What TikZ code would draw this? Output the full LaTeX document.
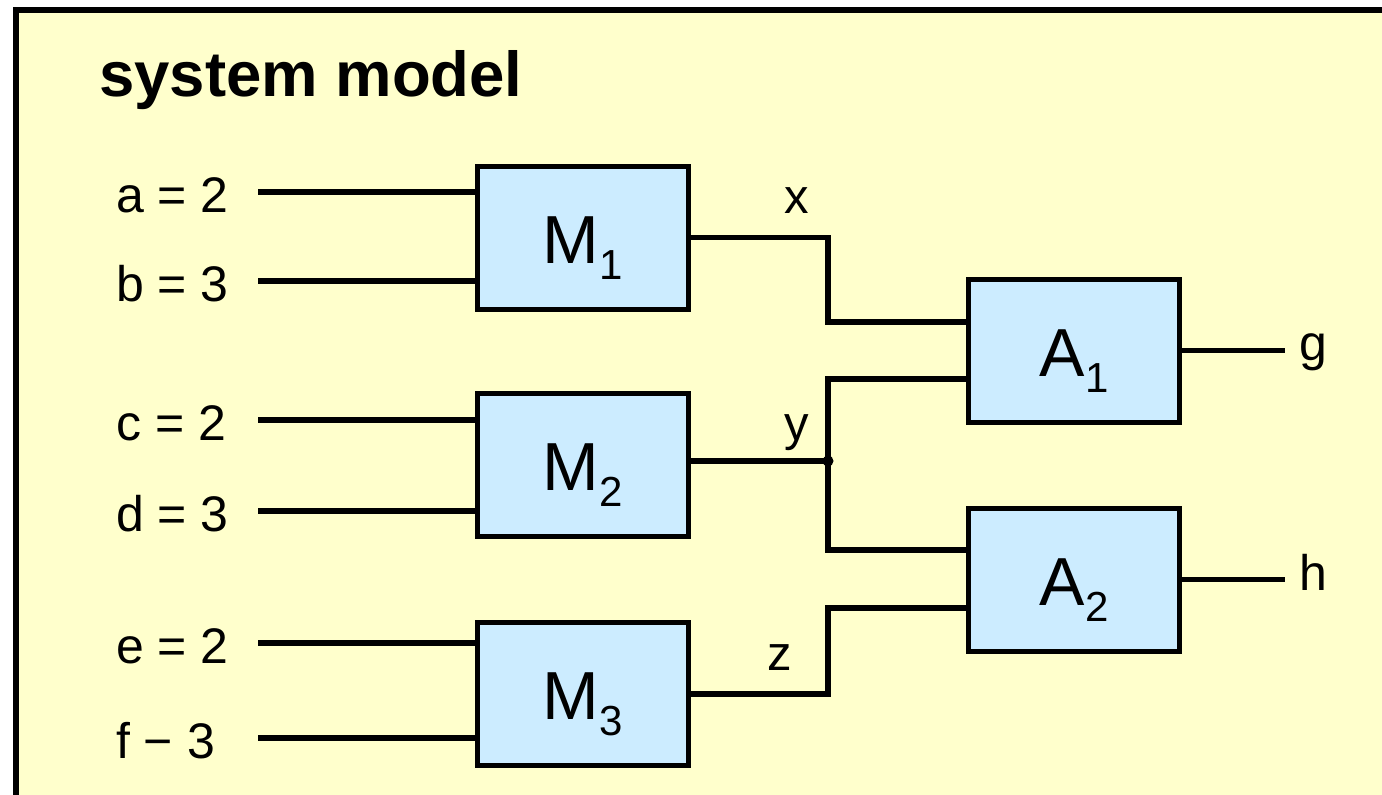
\documentclass[tikz,border=0pt]{standalone}
\usepackage{fontspec}
\setmainfont{Liberation Sans}
\usetikzlibrary{calc}
\definecolor{bgyellow}{RGB}{255,255,204}
\definecolor{boxblue}{RGB}{204,236,255}
\begin{document}
\begin{tikzpicture}[x=1pt,y=-1pt,
  wire/.style={line width=5.3pt, line join=miter},
  blk/.style={draw, line width=5pt, fill=boxblue, minimum width=211pt, minimum height=143pt,
    inner sep=0pt, outer sep=0pt, text height=51pt, text depth=0pt, font=\fontsize{68}{68}\selectfont},
  lbl/.style={font=\fontsize{50}{50}\selectfont, inner sep=0pt, anchor=base west},
  wlbl/.style={font=\fontsize{49}{49}\selectfont, inner sep=0pt, anchor=base}]
\useasboundingbox (0,0) rectangle (1382,795);
\fill[white] (0,0) rectangle (1382,795);
\begin{scope}
\clip (0,0) rectangle (1382,795);
\draw[line width=6pt, fill=bgyellow] (15.5,10) rectangle (1420,830);
\end{scope}
\newcommand{\sbs}[1]{\raisebox{-16pt}{\fontsize{42}{42}\selectfont #1}}
% title
\node[anchor=base west, inner sep=0pt, font=\bfseries\fontsize{63.5}{63.5}\selectfont] (title) at (99,96) {system model};
% blocks
\node[blk] (M1) at (582.5,237.5) {M\sbs{1}};
\node[blk] (M2) at (582.5,465) {M\sbs{2}};
\node[blk] (M3) at (582.5,694) {M\sbs{3}};
\node[blk] (A1) at (1074,350.5) {A\sbs{1}};
\node[blk] (A2) at (1074,579.5) {A\sbs{2}};
% input labels
\node[lbl] (la) at (116,212) {a = 2};
\node[lbl] (lb) at (116,301) {b = 3};
\node[lbl] (lc) at (116,440) {c = 2};
\node[lbl] (ld) at (116,531) {d = 3};
\node[lbl] (le) at (116,663) {e = 2};
\node[lbl] (lf) at (116,758) {f − 3};
% input wires
\coordinate (ia) at (258,192);
\coordinate (ib) at (258,281);
\coordinate (ic) at (258,420);
\coordinate (id) at (258,511);
\coordinate (ie) at (258,643);
\coordinate (if) at (258,738);
\draw[wire] (ia) -- (ia -| M1.west);
\draw[wire] (ib) -- (ib -| M1.west);
\draw[wire] (ic) -- (ic -| M2.west);
\draw[wire] (id) -- (id -| M2.west);
\draw[wire] (ie) -- (ie -| M3.west);
\draw[wire] (if) -- (if -| M3.west);
% internal wires
\coordinate (jy) at (828,461);
\draw[wire] (M1.east) -- ++(140,0) |- ($(A1.west)+(0,-28.5)$);
\draw[wire] (jy -| M2.east) -- (jy);
\draw[wire] ($(A1.west)+(0,28.5)$) -| (jy) |- ($(A2.west)+(0,-29.5)$);
\fill (jy) circle (5.5);
\draw[wire] (M3.east) -- ++(140,0) |- ($(A2.west)+(0,28.5)$);
% wire labels
\node[wlbl] (lx) at (796.5,213) {x};
\node[wlbl] (ly) at (797,440) {y};
\node[wlbl] (lz) at (779.5,670) {z};
% outputs
\coordinate (og) at (1285,350.5);
\coordinate (oh) at (1285,579.5);
\draw[wire] (A1.east) -- (og);
\draw[wire] (A2.east) -- (oh);
\node[lbl] (lg) at (1299,360) {g};
\node[lbl] (lh) at (1299,590) {h};
\end{tikzpicture}
\end{document}
